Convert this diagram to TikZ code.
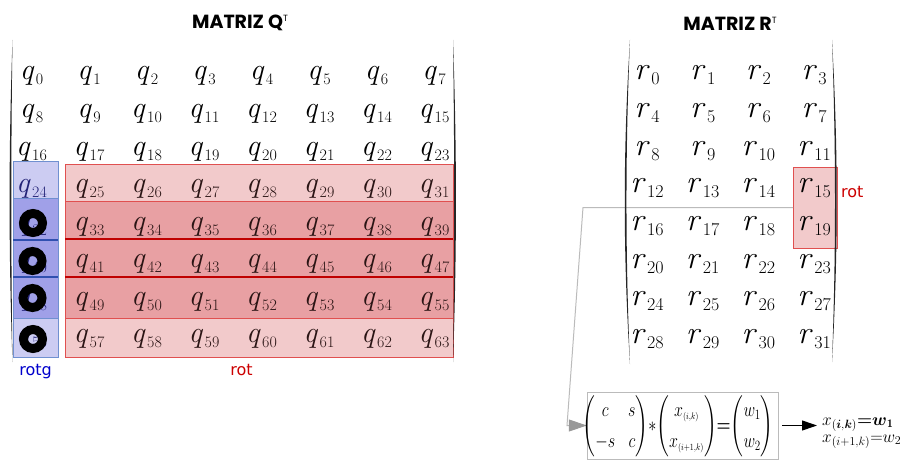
\documentclass[tikz,border=0pt]{standalone}
\usepackage{fontspec}
\usepackage{amsmath}
\usepackage{graphicx}
\usetikzlibrary{arrows.meta}
\newfontfamily\labfont{DejaVu Sans}
\newfontfamily\titlefont{Poppins}
\definecolor{lred}{HTML}{F2CACB}
\definecolor{dred}{HTML}{E8A0A3}
\definecolor{bred}{HTML}{E05050}
\definecolor{kred}{HTML}{C00000}
\definecolor{lblue}{HTML}{CCCCF2}
\definecolor{dblue}{HTML}{A0A0E8}
\definecolor{bblue}{HTML}{7090D0}
\definecolor{kblue}{HTML}{3050B0}
\definecolor{labred}{HTML}{CC0000}
\definecolor{labblue}{HTML}{0000CC}
\definecolor{gline}{HTML}{BBBBBB}
\definecolor{gtip}{HTML}{999999}
\definecolor{qblue}{HTML}{222277}
\definecolor{qred}{HTML}{2A1414}
\newcommand\qcell[1]{\textit{q}\hspace{1.5pt}\raisebox{-5pt}{\fontsize{16}{16}\selectfont #1}}
\newcommand\rcell[1]{\textit{r}\hspace{1.5pt}\raisebox{-5pt}{\fontsize{18}{18}\selectfont #1}}
\tikzset{
  qe/.style={anchor=base, inner sep=0pt, font=\fontsize{30}{30}\selectfont},
  re/.style={anchor=base, inner sep=0pt, font=\fontsize{32}{32}\selectfont},
  ttl/.style={anchor=base, inner sep=0pt, font=\titlefont\bfseries\fontsize{19}{19}\selectfont},
  lab/.style={inner sep=0pt, font=\labfont\fontsize{16}{16}\selectfont},
  brk/.style={fill=black!85},
  ring/.style={draw=black, line width=9pt},
}
\begin{document}
\begin{tikzpicture}[x=1pt,y=-1pt]
\useasboundingbox (0,0) rectangle (903,460);
% titles
\node[ttl] (tq) at (240,29) {MATRIZ Q\raisebox{7pt}{\fontsize{9}{9}\selectfont\mdseries T}};
\node[ttl] (tr) at (730,31) {MATRIZ R\raisebox{7pt}{\fontsize{9}{9}\selectfont\mdseries T}};
% blue column
\fill[lblue] (13,161) rectangle (58,198);
\fill[dblue] (13,198) rectangle (58,318);
\fill[lblue] (13,318) rectangle (58,357);
\draw[bblue] (13,161) rectangle (58,357);
\draw[bblue] (13,198) -- (58,198) (13,318) -- (58,318);
\draw[kblue, line width=1.2pt] (13,240) -- (58,240) (13,277) -- (58,277);
% red block
\fill[lred] (65,164) rectangle (453,201);
\fill[dred] (65,201) rectangle (453,318);
\fill[lred] (65,318) rectangle (453,357);
\draw[bred] (65,164) rectangle (453,357);
\draw[bred] (65,201) -- (453,201) (65,318) -- (453,318);
\draw[kred, line width=1.2pt] (65,239) -- (453,239) (65,277) -- (453,277);
% Q entries
\foreach \r in {0,...,7} {
  \foreach \c in {0,...,7} {
    \pgfmathtruncatemacro\n{8*\r+\c}
    \ifnum\r>2 \ifnum\c=0 \def\tc{qblue}\else\def\tc{qred}\fi\else\def\tc{black}\fi
    \node[qe, text=\tc] (q\n) at ({31.5+57.5*\c},{80+37.5*\r}) {\qcell{\n}};
  }
}
% rings
\draw[ring] (33,223) circle (9.5pt);
\draw[ring] (32.5,261) circle (9.5pt);
\draw[ring] (32.5,298) circle (9.5pt);
\draw[ring] (33,339) circle (9.5pt);
% labels
\node[lab, text=labblue, anchor=base] (lrotg) at (35.5,375) {rotg};
\node[lab, text=labred, anchor=base] (lrot) at (241.5,375) {rot};
% R red box
\node[draw=bred, fill=lred, minimum width=44pt, minimum height=81pt, inner sep=0pt, anchor=north west] (rbox) at (793,167) {};
\node[lab, text=labred, anchor=base west] (lrot2) at (841,197) {rot};
% connector
\coordinate (bend1) at (583,207.5);
\coordinate (bend2) at (567,425.5);
\node[draw=gline, minimum width=191pt, minimum height=67pt, inner sep=0pt] (fbox) at (682.5,425.5) {};
\draw[gline, line width=1pt, -{Triangle[length=18pt,width=12pt,color=gtip,fill=gtip]}] (rbox.west) -- (bend1) -- (bend2) -- (fbox.west);
% R entries
\foreach \r in {0,...,7} {
  \foreach \c in {0,...,3} {
    \pgfmathtruncatemacro\n{4*\r+\c}
    \node[re] (r\n) at ({647+55.7*\c},{80+37.6*\r}) {\rcell{\n}};
  }
}
% brackets
\fill[brk] (12.5,40) .. controls (8.6,150) and (8.6,252) .. (12.5,362) .. controls (10.9,252) and (10.9,150) .. (12.5,40) -- cycle;
\fill[brk] (453,40) .. controls (456.9,150) and (456.9,252) .. (453,362) .. controls (454.6,252) and (454.6,150) .. (453,40) -- cycle;
\fill[brk] (630,40) .. controls (623,150) and (623,254) .. (630,364) .. controls (625.3,254) and (625.3,150) .. (630,40) -- cycle;
\fill[brk] (832,40) .. controls (838.3,150) and (838.3,252) .. (832,362) .. controls (836,252) and (836,150) .. (832,40) -- cycle;
% formula
\node[inner sep=0pt, font=\fontsize{17}{17}\selectfont] (formula) at (678,426) {\scalebox{0.93}[1.18]{$\renewcommand\arraystretch{1.55}\setlength\arraycolsep{7pt}\left(\begin{matrix} c & s\\ -s & c\end{matrix}\right)\!{*}\!\setlength\arraycolsep{3pt}\left(\begin{matrix} x_{\scriptscriptstyle(i,k)}\\ x_{\scriptscriptstyle(i+1,k)}\end{matrix}\right)\!{\boldsymbol{=}}\!\left(\begin{matrix} w_1\\ w_2\end{matrix}\right)$}};
% results
\node[inner sep=0pt, anchor=base west, font=\fontsize{16.5}{16.5}\selectfont] (res1) at (822,425) {$x_{(\boldsymbol{i},\boldsymbol{k})}{\boldsymbol{=}}\boldsymbol{w}_{\mathbf{1}}$};
\node[inner sep=0pt, anchor=base west, font=\fontsize{16.5}{16.5}\selectfont] (res2) at (822,442) {$x_{(i+1,k)}{=}w_2$};
\draw[line width=1pt, -{Triangle[length=15pt,width=10pt]}] ([xshift=4pt]fbox.east) -- ([xshift=-5pt]res1.west |- fbox.east);
\end{tikzpicture}
\end{document}
